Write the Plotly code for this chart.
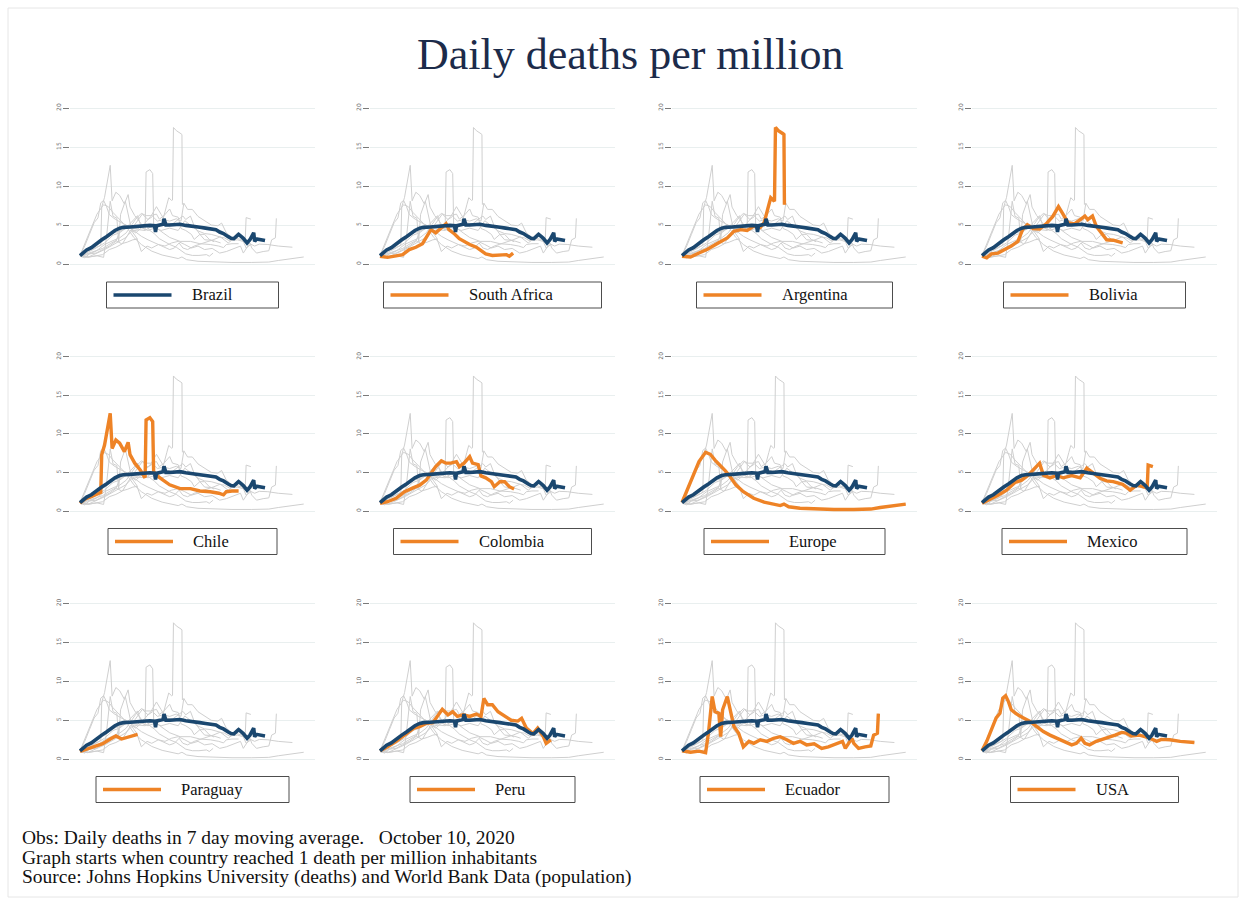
import plotly.graph_objects as go

W, H = 1246, 905

# Daily deaths per million (7-day moving average), indexed by days since
# the country reached 1 death per million inhabitants.
brazil_days = [0, 4, 7, 12, 18, 23, 28, 33, 37, 42, 46, 53, 58, 64, 69, 74, 79, 80, 81, 84, 88, 89, 91, 95, 100, 106, 112, 117, 122, 127, 133, 140, 144, 148, 152, 157, 160, 163, 168, 170, 173, 177, 180, 184, 185, 187, 191, 196]
brazil_vals = [1.07, 1.5, 1.8, 2.1, 2.7, 3.1, 3.5, 4.0, 4.3, 4.6, 4.7, 4.75, 4.8, 4.9, 4.85, 4.95, 4.9, 4.1, 4.9, 4.95, 5.1, 5.8, 5.0, 5.0, 5.05, 5.1, 4.95, 4.9, 4.8, 4.7, 4.6, 4.5, 4.4, 4.1, 3.9, 3.5, 3.3, 3.25, 3.8, 3.6, 3.3, 2.7, 3.1, 4.0, 2.9, 3.2, 3.1, 3.0]

south_africa_days = [0, 8, 17, 24, 31, 38, 45, 51, 54, 59, 65, 70, 73, 79, 84, 89, 95, 102, 107, 112, 119, 126, 134, 137, 141]
south_africa_vals = [1.0, 0.85, 1.05, 1.2, 1.85, 2.15, 2.6, 3.8, 4.4, 4.0, 4.65, 5.15, 4.4, 3.85, 3.25, 2.9, 2.5, 2.15, 1.7, 1.3, 1.1, 1.1, 1.2, 1.0, 1.4]

argentina_days = [0, 9, 18, 27, 37, 48, 55, 62, 69, 76, 83, 87, 92, 94, 97, 98, 99, 102, 107, 108, 108.5]
argentina_vals = [1.0, 0.9, 1.4, 1.9, 2.6, 3.35, 4.2, 4.4, 4.3, 4.85, 4.7, 5.3, 7.6, 8.5, 8.15, 8.2, 17.5, 17.1, 16.7, 16.6, 7.6]

bolivia_days = [0, 5, 10, 17, 24, 31, 38, 43, 48, 54, 61, 68, 75, 81, 86, 91, 98, 104, 109, 112, 117, 121, 127, 132, 139, 144, 149]
bolivia_vals = [1.0, 0.8, 1.3, 1.4, 1.85, 2.3, 2.9, 4.4, 5.05, 4.55, 4.5, 5.15, 6.1, 7.35, 6.35, 5.3, 5.15, 5.7, 6.15, 5.7, 6.15, 4.85, 3.8, 3.1, 3.05, 2.9, 2.7]

chile_days = [0, 5, 12, 19, 22, 23, 26, 32, 34, 38, 42, 47, 51, 53, 58, 64, 68, 69, 70, 74, 77, 78, 83, 88, 95, 106, 117, 127, 138, 147, 152, 155, 161, 168]
chile_vals = [1.0, 1.55, 1.85, 2.3, 2.4, 7.3, 8.55, 12.65, 8.1, 9.2, 8.8, 7.7, 8.9, 7.3, 6.2, 5.3, 4.45, 4.5, 11.8, 12.1, 11.6, 5.1, 4.45, 4.0, 3.4, 2.9, 2.9, 2.6, 2.5, 2.3, 2.1, 2.5, 2.6, 2.6]

colombia_days = [0, 8, 17, 26, 35, 42, 49, 54, 59, 65, 70, 75, 81, 84, 89, 95, 98, 104, 107, 112, 118, 121, 127, 132, 137, 142]
colombia_vals = [1.0, 1.2, 1.65, 2.5, 3.0, 3.35, 4.0, 4.9, 5.75, 6.5, 6.2, 6.2, 6.4, 5.75, 6.2, 7.05, 6.2, 6.0, 4.55, 4.3, 3.8, 3.15, 3.8, 3.8, 3.15, 2.85]

europe_days = [0, 9, 18, 25, 30, 35, 41, 46, 51, 57, 65, 76, 87, 97, 104, 108, 113, 125, 143, 161, 182, 200, 210, 224, 237]
europe_vals = [1.1, 3.8, 6.4, 7.6, 7.35, 6.6, 5.9, 5.2, 4.45, 3.4, 2.5, 1.65, 1.15, 0.85, 0.7, 0.9, 0.55, 0.35, 0.25, 0.2, 0.2, 0.25, 0.45, 0.7, 0.9]

mexico_days = [0, 8, 17, 26, 35, 42, 49, 54, 61, 65, 72, 79, 86, 95, 104, 111, 118, 125, 132, 139, 149, 157, 164, 170, 175, 176, 181]
mexico_vals = [1.0, 1.45, 2.05, 2.7, 3.7, 4.0, 4.65, 5.3, 6.2, 4.65, 4.3, 4.6, 4.3, 4.6, 4.3, 5.55, 4.9, 4.25, 3.9, 3.8, 3.45, 2.7, 3.35, 3.15, 3.0, 5.95, 5.75]

paraguay_days = [0, 8, 16, 24, 32, 38, 44, 50, 56, 61]
paraguay_vals = [1.0, 1.3, 1.6, 2.0, 2.6, 3.0, 2.6, 2.8, 3.1, 3.2]

peru_days = [0, 8, 17, 28, 36, 42, 49, 56, 61, 66, 72, 77, 82, 88, 95, 102, 107, 110, 114, 119, 125, 132, 139, 146, 150, 155, 162, 167, 173, 176, 181]
peru_vals = [1.1, 1.6, 2.3, 3.3, 4.0, 4.2, 4.6, 4.7, 5.5, 6.4, 5.7, 6.1, 5.5, 5.7, 5.5, 5.8, 5.5, 7.8, 7.0, 7.0, 6.1, 5.55, 5.0, 4.9, 5.25, 4.0, 3.3, 4.0, 2.9, 2.05, 2.5]

ecuador_days = [0, 9, 18, 25, 28, 32, 35, 39, 41, 43, 48, 51, 55, 60, 65, 71, 76, 83, 90, 97, 104, 111, 118, 125, 132, 140, 148, 155, 164, 170, 173, 180, 182, 187, 194, 200, 203, 207, 208]
ecuador_vals = [1.1, 0.9, 1.05, 0.85, 3.35, 8.05, 6.1, 5.9, 2.9, 6.35, 8.05, 6.35, 4.2, 3.35, 1.6, 2.3, 2.05, 2.5, 2.3, 2.7, 2.9, 2.5, 2.05, 2.3, 1.85, 2.0, 1.4, 1.6, 2.05, 2.3, 1.4, 2.7, 2.05, 1.4, 1.6, 1.7, 3.1, 3.35, 5.85]

usa_days = [0, 5, 10, 15, 19, 22, 25, 28, 31, 36, 43, 51, 58, 65, 72, 79, 86, 95, 100, 105, 109, 114, 121, 132, 141, 148, 153, 158, 167, 178, 185, 190, 199, 210, 225]
usa_vals = [1.1, 2.3, 3.8, 5.3, 5.9, 7.85, 8.15, 7.4, 6.35, 5.85, 5.35, 4.85, 4.2, 3.55, 3.1, 2.7, 2.3, 1.85, 2.05, 2.7, 2.05, 1.85, 2.3, 2.7, 3.1, 3.45, 3.35, 3.0, 3.1, 2.7, 2.3, 2.55, 2.5, 2.3, 2.15]

countries = ["Brazil", "South Africa", "Argentina", "Bolivia",
             "Chile", "Colombia", "Europe", "Mexico",
             "Paraguay", "Peru", "Ecuador", "USA"]

series = {
    "Brazil": (brazil_days, brazil_vals),
    "South Africa": (south_africa_days, south_africa_vals),
    "Argentina": (argentina_days, argentina_vals),
    "Bolivia": (bolivia_days, bolivia_vals),
    "Chile": (chile_days, chile_vals),
    "Colombia": (colombia_days, colombia_vals),
    "Europe": (europe_days, europe_vals),
    "Mexico": (mexico_days, mexico_vals),
    "Paraguay": (paraguay_days, paraguay_vals),
    "Peru": (peru_days, peru_vals),
    "Ecuador": (ecuador_days, ecuador_vals),
    "USA": (usa_days, usa_vals),
}

y_ticks = [0, 5, 10, 15, 20]

# Styling
GRAY = "#cfcfcf"
BLUE = "#1a476f"
ORANGE = "#ee8326"
SERIF = "Liberation Serif, Times New Roman, serif"

# Panel geometry in pixels
col_left = [70, 370, 672, 972]
panel_w = 245
row_y20 = [108, 356.7, 603.3]
row_y0 = [264, 511, 759.3]
legend_row_y = [295, 541.5, 789.5]
legend_w = [172, 218, 196, 182, 169, 198, 181, 185, 193, 165, 189, 168]
px_per_day = 0.944
x_range = [-10 / px_per_day, 235 / px_per_day]
y_pad = 0.6

fig = go.Figure()
shapes = []
annotations = []
layout_axes = {}

for i, name in enumerate(countries):
    r, c = divmod(i, 4)
    k = i + 1
    xa = "x" if k == 1 else f"x{k}"
    ya = "y" if k == 1 else f"y{k}"
    xkey = "xaxis" if k == 1 else f"xaxis{k}"
    ykey = "yaxis" if k == 1 else f"yaxis{k}"

    unit = (row_y0[r] - row_y20[r]) / 20.0
    top_px = row_y20[r] - y_pad * unit
    bot_px = row_y0[r] + y_pad * unit
    left_px = col_left[c]
    right_px = left_px + panel_w

    layout_axes[xkey] = dict(
        domain=[left_px / W, right_px / W], range=x_range, anchor=ya,
        visible=False, showgrid=False, zeroline=False,
    )
    layout_axes[ykey] = dict(
        domain=[1 - bot_px / H, 1 - top_px / H], range=[-y_pad, 20 + y_pad],
        anchor=xa, tickvals=y_ticks, ticktext=[str(t) for t in y_ticks],
        tickangle=-90, tickfont=dict(size=6, color="#6a6a6a", family="DejaVu Sans"),
        ticks="outside", ticklen=6, tickwidth=1, tickcolor="#7a7a7a",
        showgrid=True, gridcolor="#e9efef", gridwidth=1,
        zeroline=False, showline=False, fixedrange=True,
    )

    # background: every country in light gray
    for other in countries:
        d, v = series[other]
        fig.add_trace(go.Scatter(
            x=d, y=v, xaxis=xa, yaxis=ya, mode="lines",
            line=dict(color=GRAY, width=1), hoverinfo="skip", showlegend=False,
        ))
    # highlighted country
    if name != "Brazil":
        d, v = series[name]
        fig.add_trace(go.Scatter(
            x=d, y=v, xaxis=xa, yaxis=ya, mode="lines", name=name,
            line=dict(color=ORANGE, width=3.4), showlegend=False,
        ))
    # Brazil reference line
    d, v = series["Brazil"]
    fig.add_trace(go.Scatter(
        x=d, y=v, xaxis=xa, yaxis=ya, mode="lines", name="Brazil",
        line=dict(color=BLUE, width=3.6), showlegend=False,
    ))

    # legend box under each panel
    cx = (left_px + right_px) / 2
    bw = legend_w[i]
    bl = cx - bw / 2
    cy = legend_row_y[r]
    shapes.append(dict(
        type="rect", xref="paper", yref="paper",
        x0=bl / W, x1=(bl + bw) / W,
        y0=1 - (cy + 13) / H, y1=1 - (cy - 13) / H,
        line=dict(color="#4d4d4d", width=1), fillcolor="rgba(0,0,0,0)",
    ))
    shapes.append(dict(
        type="line", xref="paper", yref="paper",
        x0=(bl + 7) / W, x1=(bl + 65) / W,
        y0=1 - cy / H, y1=1 - cy / H,
        line=dict(color=BLUE if name == "Brazil" else ORANGE, width=3.4),
    ))
    annotations.append(dict(
        text=name, xref="paper", yref="paper", x=(bl + 83) / W, y=1 - cy / H,
        xanchor="left", yanchor="middle", showarrow=False,
        font=dict(family=SERIF, size=16.5, color="#111111"),
    ))

# outer frame
shapes.append(dict(
    type="rect", xref="paper", yref="paper",
    x0=8 / W, x1=1238 / W, y0=1 - 897 / H, y1=1 - 8 / H,
    line=dict(color="#e6e6e6", width=1), fillcolor="rgba(0,0,0,0)", layer="below",
))

annotations.append(dict(
    text="Daily deaths per million", xref="paper", yref="paper",
    x=630 / W, y=1 - 55 / H, xanchor="center", yanchor="middle", showarrow=False,
    font=dict(family=SERIF, size=44, color="#1c2b4a"),
))

notes = [
    "Obs: Daily deaths in 7 day moving average.   October 10, 2020",
    "Graph starts when country reached 1 death per million inhabitants",
    "Source: Johns Hopkins University (deaths) and World Bank Data (population)",
]
for j, line in enumerate(notes):
    annotations.append(dict(
        text=line.replace("   ", "&nbsp;&nbsp;&nbsp;"), xref="paper", yref="paper",
        x=20 / W, y=1 - (837 + 20 * j) / H, xanchor="left", yanchor="middle",
        showarrow=False, font=dict(family=SERIF, size=19.5, color="#111111"),
    ))

fig.update_layout(
    width=W, height=H,
    margin=dict(l=0, r=0, t=0, b=0),
    paper_bgcolor="white", plot_bgcolor="white",
    showlegend=False,
    shapes=shapes, annotations=annotations,
    **layout_axes,
)

fig.write_html("out.html", config={"displayModeBar": False})
